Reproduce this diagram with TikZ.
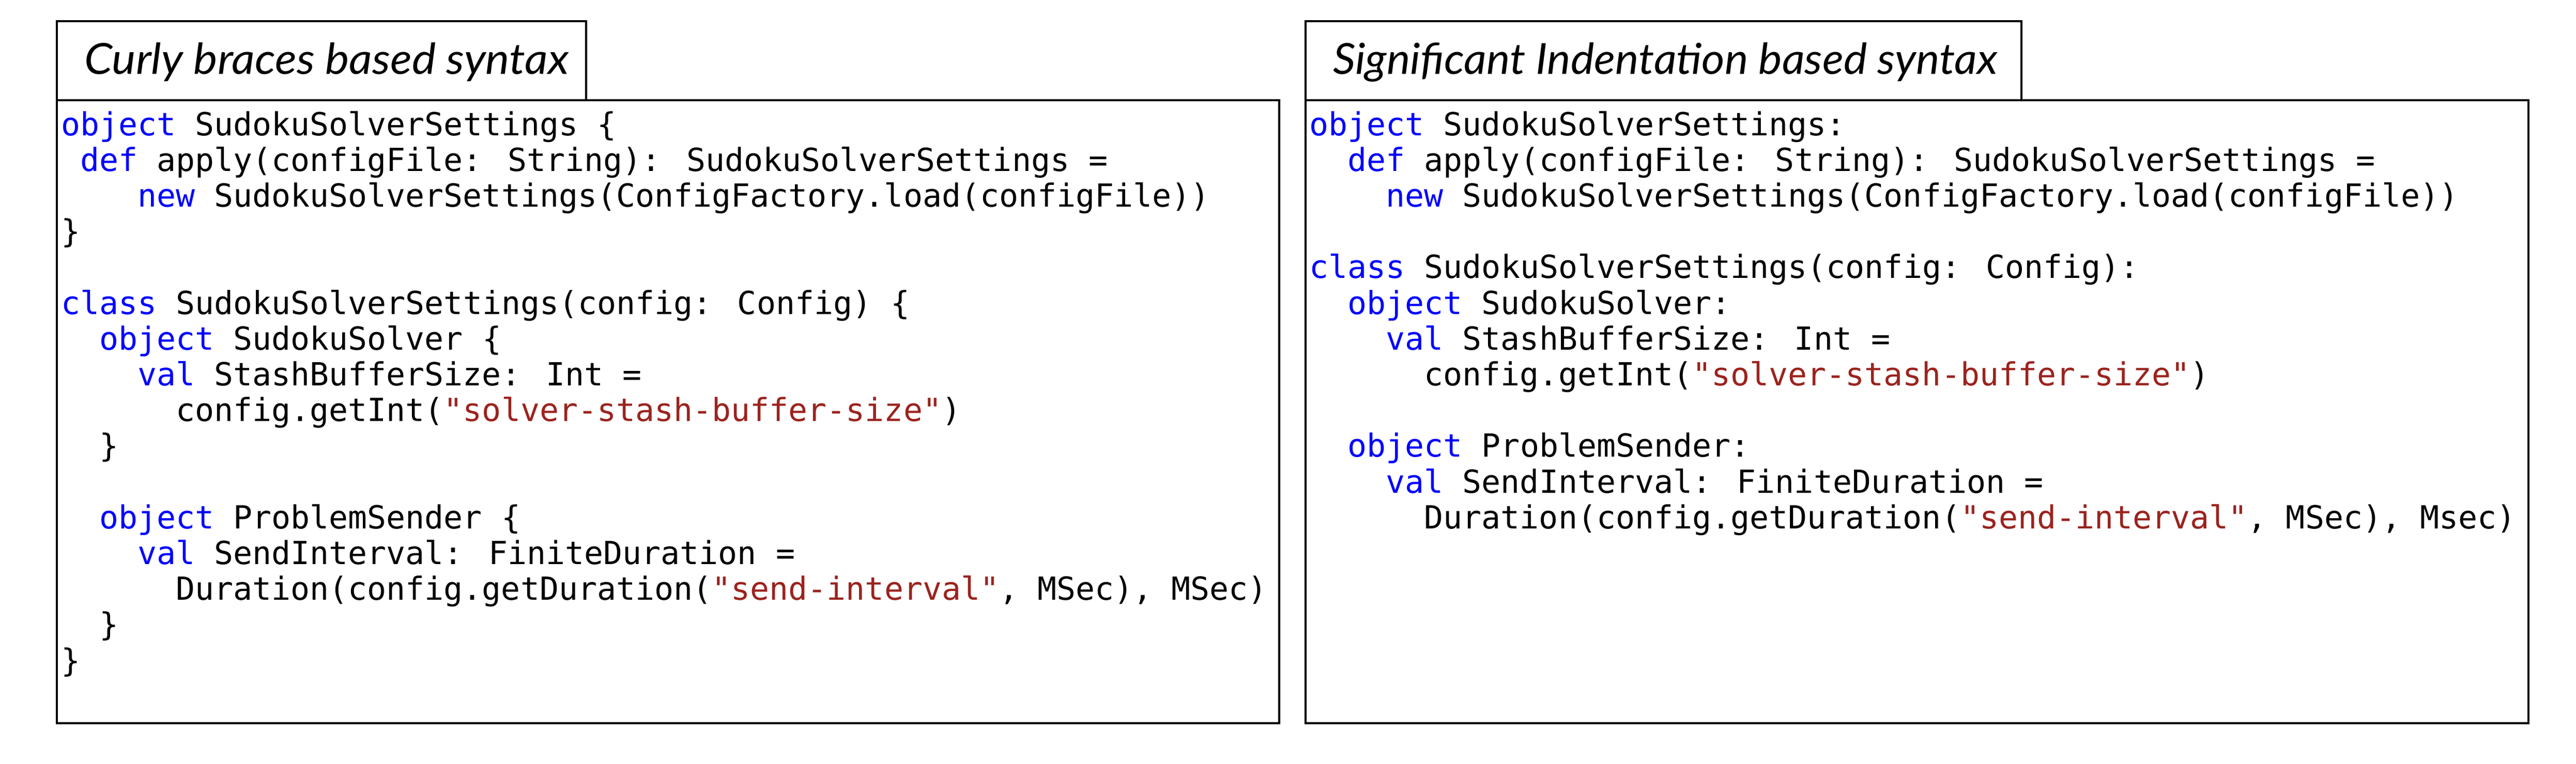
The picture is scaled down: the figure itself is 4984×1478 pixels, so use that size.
\documentclass[tikz,border=0pt]{standalone}
\usepackage{fontspec}
\usepackage{graphicx}
\newfontfamily\codefont{DejaVu Sans Mono}
\newfontfamily\titlefont{Lato}
\definecolor{kwblue}{RGB}{0,0,255}
\definecolor{strred}{RGB}{155,35,30}
\newcommand\kwd[1]{\textcolor{kwblue}{#1}}
\newcommand\strg[1]{\textcolor{strred}{#1}}
\tikzset{
  boxline/.style={draw=black, line width=0.04cm},
  codeline/.style={anchor=base west, inner sep=0pt, outer sep=0pt,
    font=\codefont\fontsize{17.5pt}{19.7pt}\selectfont},
  titletext/.style={anchor=base west, inner sep=0pt, outer sep=0pt},
}
\begin{document}
\begin{tikzpicture}[x=0.01cm,y=-0.01cm]
\useasboundingbox (0,0) rectangle (4984,1478);
\def\cw{37.03}
\def\ls{69.2}
\def\ly{262}
\def\lx{118}
\def\rx{2533.5}
% ---------- left panel ----------
\draw[boxline] (110,41) rectangle (1134,194);
\draw[boxline] (110,194) rectangle (2475,1400);
\node[titletext] (ltitle) at (163,143) {\resizebox{9.37cm}{0.61cm}{\titlefont\itshape Curly braces based syntax}};
\node[codeline] (l1)  at ({\lx+0*\cw},{\ly+0*\ls})  {\kwd{object} SudokuSolverSettings \{};
\node[codeline] (l2)  at ({\lx+1*\cw},{\ly+1*\ls})  {\kwd{def} apply(configFile: String): SudokuSolverSettings =};
\node[codeline] (l3)  at ({\lx+4*\cw},{\ly+2*\ls})  {\kwd{new} SudokuSolverSettings(ConfigFactory.load(configFile))};
\node[codeline] (l4)  at ({\lx+0*\cw},{\ly+3*\ls})  {\}};
\node[codeline] (l6)  at ({\lx+0*\cw},{\ly+5*\ls})  {\kwd{class} SudokuSolverSettings(config: Config) \{};
\node[codeline] (l7)  at ({\lx+2*\cw},{\ly+6*\ls})  {\kwd{object} SudokuSolver \{};
\node[codeline] (l8)  at ({\lx+4*\cw},{\ly+7*\ls})  {\kwd{val} StashBufferSize: Int =};
\node[codeline] (l9)  at ({\lx+6*\cw},{\ly+8*\ls})  {config.getInt(\strg{"solver-stash-buffer-size"})};
\node[codeline] (l10) at ({\lx+2*\cw},{\ly+9*\ls})  {\}};
\node[codeline] (l12) at ({\lx+2*\cw},{\ly+11*\ls}) {\kwd{object} ProblemSender \{};
\node[codeline] (l13) at ({\lx+4*\cw},{\ly+12*\ls}) {\kwd{val} SendInterval: FiniteDuration =};
\node[codeline] (l14) at ({\lx+6*\cw},{\ly+13*\ls}) {Duration(config.getDuration(\strg{"send-interval"}, MSec), MSec)};
\node[codeline] (l15) at ({\lx+2*\cw},{\ly+14*\ls}) {\}};
\node[codeline] (l16) at ({\lx+0*\cw},{\ly+15*\ls}) {\}};
% ---------- right panel ----------
\draw[boxline] (2526,41) rectangle (3911,194);
\draw[boxline] (2526,194) rectangle (4892,1400);
\node[titletext] (rtitle) at (2579,143) {\resizebox{12.85cm}{0.61cm}{\titlefont\itshape Significant Indentation based syntax}};
\node[codeline] (r1)  at ({\rx+0*\cw},{\ly+0*\ls})  {\kwd{object} SudokuSolverSettings:};
\node[codeline] (r2)  at ({\rx+2*\cw},{\ly+1*\ls})  {\kwd{def} apply(configFile: String): SudokuSolverSettings =};
\node[codeline] (r3)  at ({\rx+4*\cw},{\ly+2*\ls})  {\kwd{new} SudokuSolverSettings(ConfigFactory.load(configFile))};
\node[codeline] (r5)  at ({\rx+0*\cw},{\ly+4*\ls})  {\kwd{class} SudokuSolverSettings(config: Config):};
\node[codeline] (r6)  at ({\rx+2*\cw},{\ly+5*\ls})  {\kwd{object} SudokuSolver:};
\node[codeline] (r7)  at ({\rx+4*\cw},{\ly+6*\ls})  {\kwd{val} StashBufferSize: Int =};
\node[codeline] (r8)  at ({\rx+6*\cw},{\ly+7*\ls})  {config.getInt(\strg{"solver-stash-buffer-size"})};
\node[codeline] (r10) at ({\rx+2*\cw},{\ly+9*\ls})  {\kwd{object} ProblemSender:};
\node[codeline] (r11) at ({\rx+4*\cw},{\ly+10*\ls}) {\kwd{val} SendInterval: FiniteDuration =};
\node[codeline] (r12) at ({\rx+6*\cw},{\ly+11*\ls}) {Duration(config.getDuration(\strg{"send-interval"}, MSec), Msec)};
\end{tikzpicture}
\end{document}
